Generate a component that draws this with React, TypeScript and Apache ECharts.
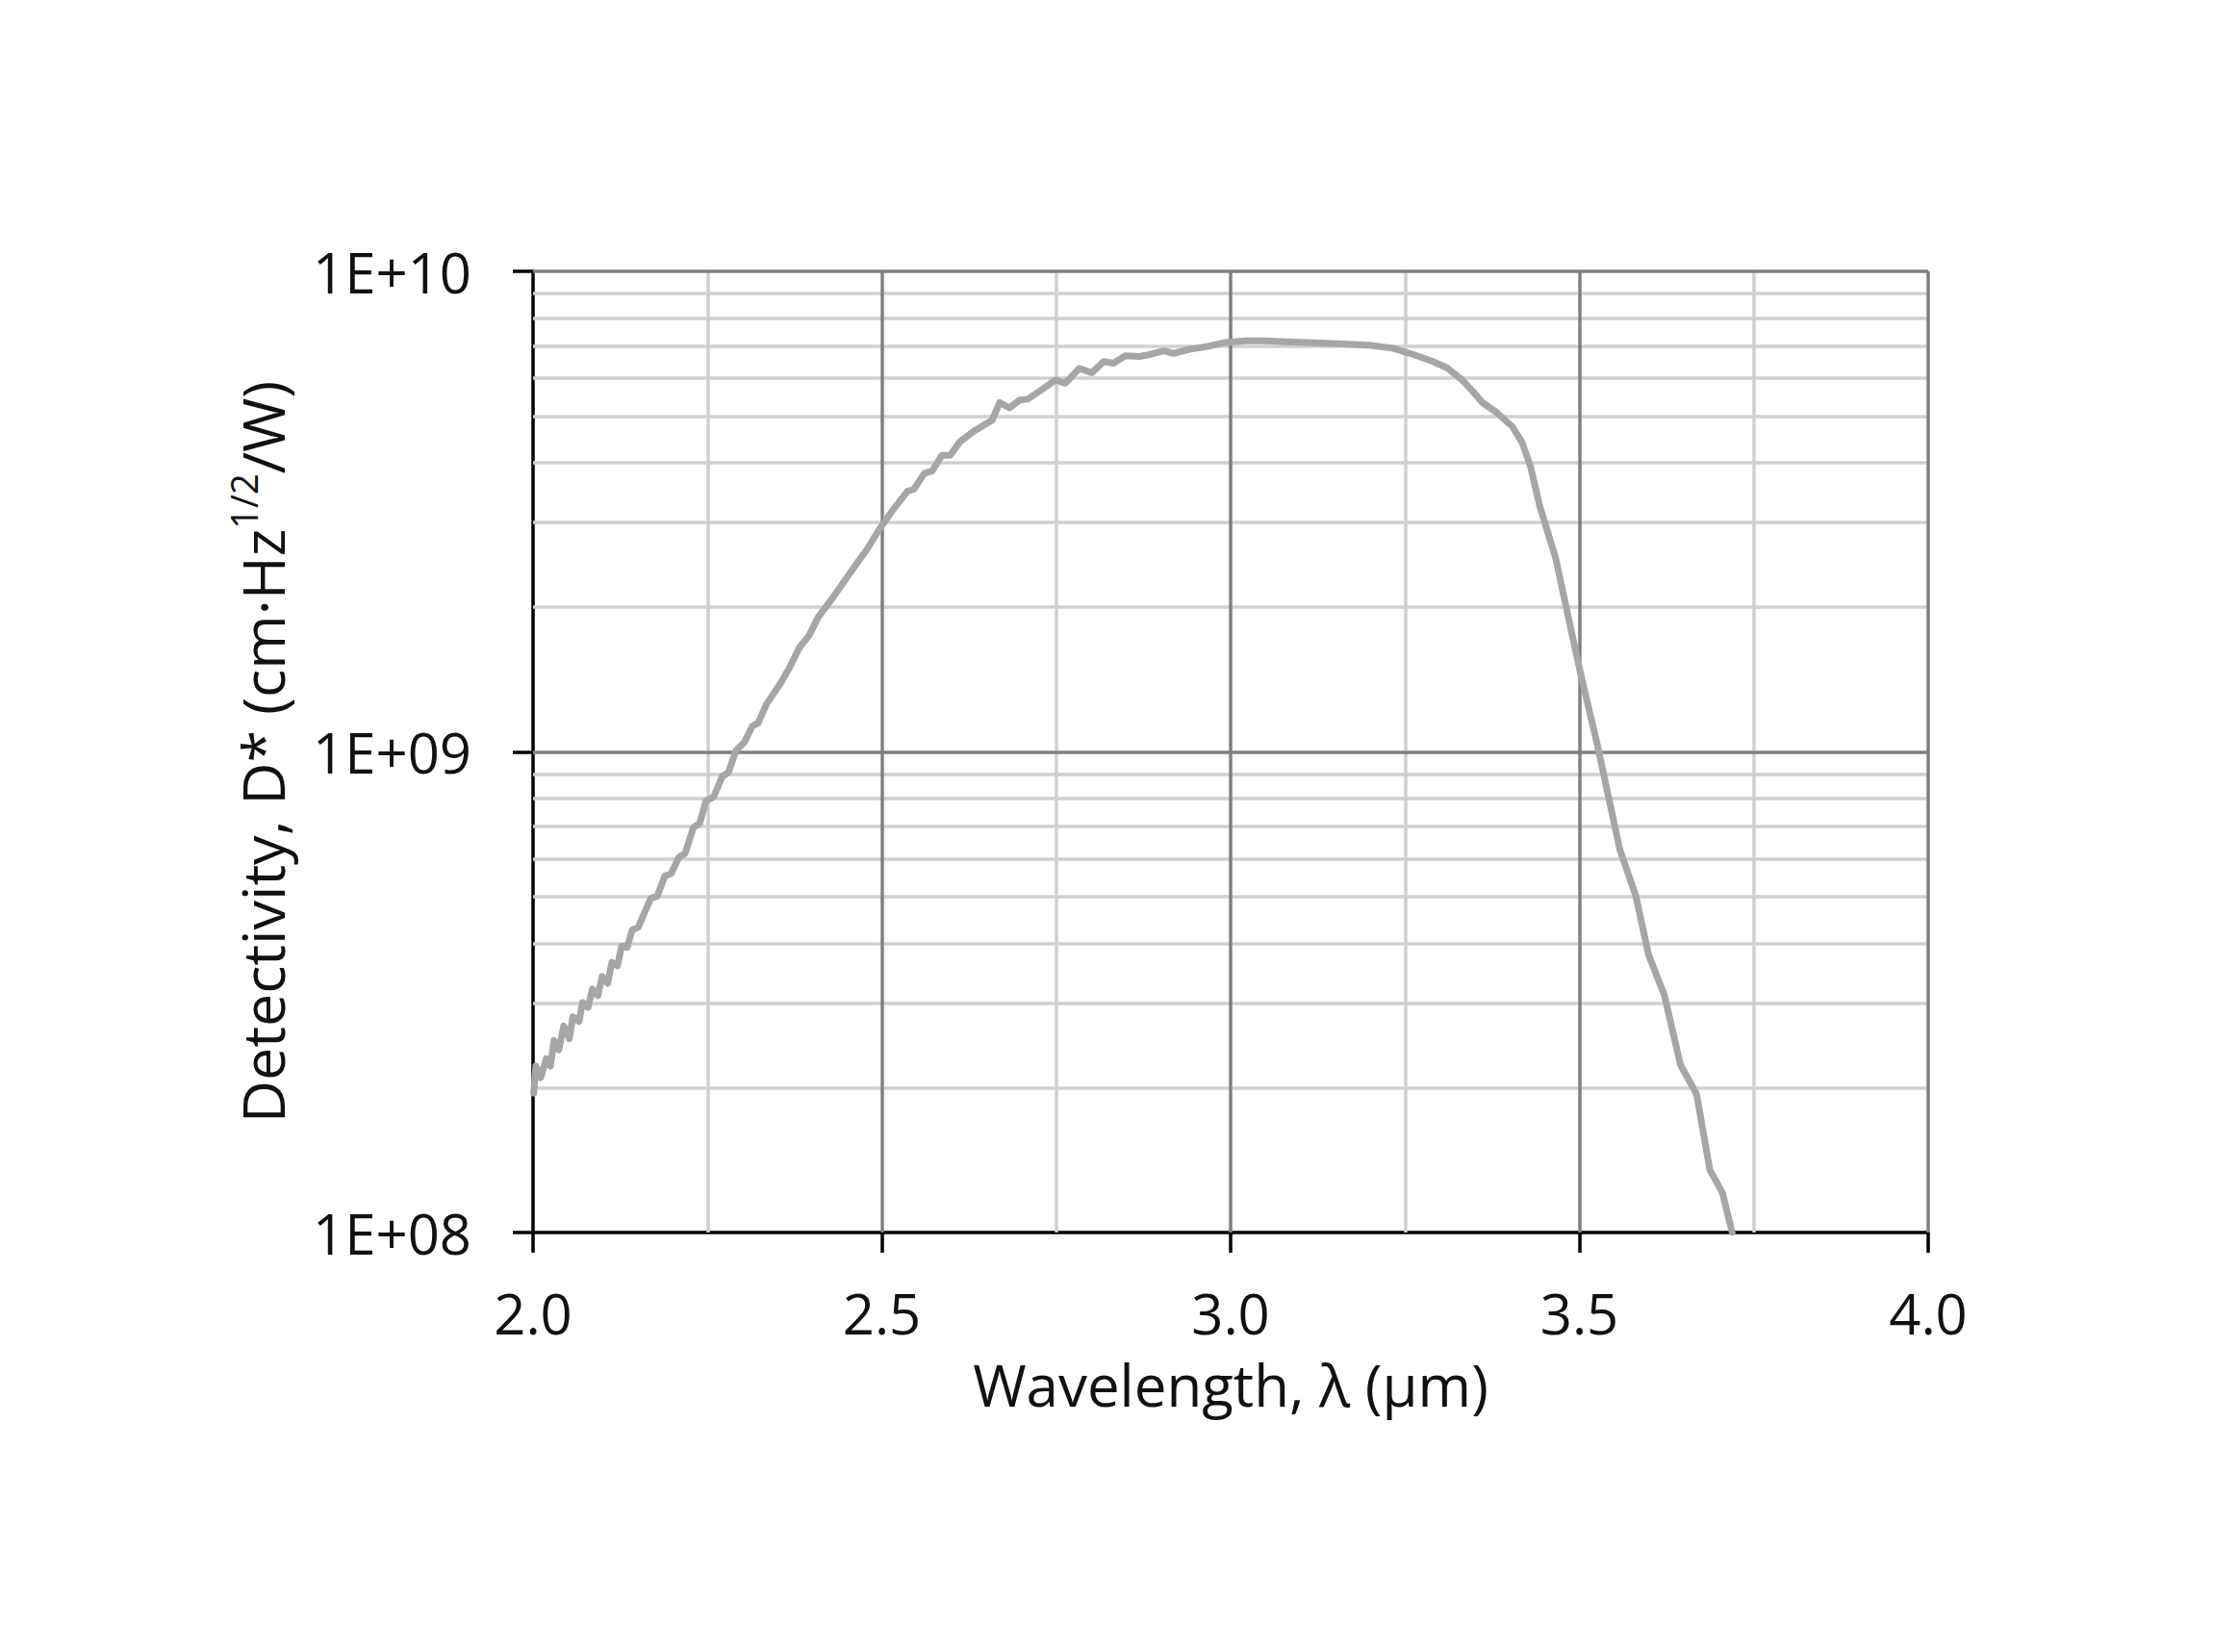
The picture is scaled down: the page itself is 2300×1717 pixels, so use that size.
import { useEffect, useRef } from 'react';
import * as echarts from 'echarts';

// wavelength (µm) and detectivity D*
const wavelength = [
  2.001, 2.004, 2.011, 2.019, 2.025, 2.030, 2.037, 2.044, 2.052, 2.057,
  2.066, 2.071, 2.079, 2.085, 2.093, 2.099, 2.107, 2.113, 2.121, 2.127,
  2.135, 2.142, 2.151, 2.160, 2.169, 2.178, 2.189, 2.198, 2.209, 2.218,
  2.230, 2.239, 2.248, 2.259, 2.271, 2.280, 2.291, 2.303, 2.314, 2.323,
  2.335, 2.346, 2.355, 2.368, 2.382, 2.396, 2.409, 2.425, 2.441, 2.459,
  2.478, 2.496, 2.514, 2.537, 2.546, 2.561, 2.572, 2.586, 2.598, 2.612,
  2.632, 2.658, 2.669, 2.683, 2.698, 2.709, 2.726, 2.749, 2.763, 2.783,
  2.801, 2.818, 2.832, 2.849, 2.869, 2.886, 2.904, 2.918, 2.941, 2.969,
  2.992, 3.021, 3.049, 3.090, 3.147, 3.198, 3.232, 3.261, 3.290, 3.310,
  3.332, 3.347, 3.361, 3.381, 3.404, 3.418, 3.430, 3.443, 3.466, 3.484,
  3.502, 3.526, 3.558, 3.581, 3.599, 3.622, 3.645, 3.668, 3.687, 3.705,
  3.719,
];
const detectivity = [
  1.95e8, 2.22e8, 2.10e8, 2.30e8, 2.22e8, 2.51e8, 2.40e8, 2.69e8, 2.53e8, 2.81e8,
  2.75e8, 3.01e8, 2.94e8, 3.21e8, 3.11e8, 3.41e8, 3.30e8, 3.65e8, 3.59e8, 3.94e8,
  3.92e8, 4.26e8, 4.32e8, 4.64e8, 4.96e8, 5.01e8, 5.52e8, 5.58e8, 6.03e8, 6.15e8,
  6.97e8, 7.11e8, 7.91e8, 8.06e8, 8.88e8, 9.06e8, 1.007e9, 1.047e9, 1.13e9, 1.15e9,
  1.26e9, 1.33e9, 1.39e9, 1.50e9, 1.65e9, 1.75e9, 1.91e9, 2.05e9, 2.21e9, 2.41e9,
  2.63e9, 2.90e9, 3.16e9, 3.49e9, 3.52e9, 3.80e9, 3.84e9, 4.14e9, 4.14e9, 4.42e9,
  4.65e9, 4.90e9, 5.33e9, 5.20e9, 5.40e9, 5.42e9, 5.63e9, 5.94e9, 5.85e9, 6.28e9,
  6.15e9, 6.49e9, 6.44e9, 6.67e9, 6.65e9, 6.72e9, 6.83e9, 6.75e9, 6.88e9, 6.99e9,
  7.11e9, 7.17e9, 7.17e9, 7.13e9, 7.08e9, 7.02e9, 6.92e9, 6.72e9, 6.49e9, 6.30e9,
  5.94e9, 5.63e9, 5.33e9, 5.09e9, 4.75e9, 4.40e9, 3.92e9, 3.25e9, 2.53e9, 1.91e9,
  1.45e9, 1.03e9, 6.26e8, 5.01e8, 3.79e8, 3.11e8, 2.23e8, 1.94e8, 1.35e8, 1.21e8,
  1.0e8,
];

// grid lines
const xMajor = [2.5, 3.0, 3.5, 4.0];
const xMinor = [2.25, 2.75, 3.25, 3.75];
const yMajor = [1e9, 1e10];
const yMinor = [
  2e8, 3e8, 4e8, 5e8, 6e8, 7e8, 8e8, 9e8,
  2e9, 3e9, 4e9, 5e9, 6e9, 7e9, 8e9, 9e9,
];

const FONT = '"Open Sans", "Noto Sans", sans-serif';
const MAJOR = '#808080';
const MINOR = '#d0d0d0';

const App = () => {
  const chartRef = useRef<HTMLDivElement>(null);

  useEffect(() => {
    if (!chartRef.current) return;
    const chart = echarts.init(chartRef.current, null, { renderer: 'svg' });

    const gridLines = [
      ...xMinor.map((v) => ({ xAxis: v, lineStyle: { color: MINOR } })),
      ...yMinor.map((v) => ({ yAxis: v, lineStyle: { color: MINOR } })),
      ...xMajor.map((v) => ({ xAxis: v, lineStyle: { color: MAJOR } })),
      ...yMajor.map((v) => ({ yAxis: v, lineStyle: { color: MAJOR } })),
    ];

    const option: echarts.EChartsOption = {
      animation: false,
      backgroundColor: '#ffffff',
      grid: { left: 554, right: 296, top: 282, bottom: 436 },
      xAxis: {
        type: 'value',
        min: 2,
        max: 4,
        interval: 0.5,
        name: 'Wavelength, λ (µm)',
        nameLocation: 'middle',
        nameGap: 128,
        nameTextStyle: { fontFamily: FONT, fontSize: 60, color: '#111' },
        axisLine: { show: true, onZero: false, lineStyle: { color: '#000', width: 3.5 } },
        axisTick: { show: true, inside: false, length: 21, lineStyle: { color: '#000', width: 3.5 } },
        axisLabel: {
          fontFamily: FONT,
          fontSize: 58,
          color: '#111',
          margin: 54,
          formatter: (v: number) => v.toFixed(1),
        },
        splitLine: { show: false },
      },
      yAxis: {
        type: 'log',
        logBase: 10,
        min: 1e8,
        max: 1e10,
        interval: 1,
        name: '{a|Detectivity, D* (cm·Hz}{s|1/2}{a|/W)}',
        nameLocation: 'middle',
        nameGap: 244,
        nameTextStyle: {
          fontFamily: FONT,
          color: '#111',
          rich: {
            a: { fontFamily: FONT, fontSize: 61, color: '#111', lineHeight: 76 },
            s: { fontFamily: FONT, fontSize: 38, color: '#111', verticalAlign: 'top', lineHeight: 76 },
          },
        },
        axisLine: { show: true, lineStyle: { color: '#000', width: 3.5 } },
        axisTick: { show: true, inside: false, length: 21, lineStyle: { color: '#000', width: 3.5 } },
        axisLabel: {
          fontFamily: FONT,
          fontSize: 58,
          color: '#111',
          margin: 64,
          formatter: (v: number) =>
            '1E+' + String(Math.round(Math.log10(v))).padStart(2, '0'),
        },
        splitLine: { show: false },
        minorTick: { show: false },
        minorSplitLine: { show: false },
      },
      series: [
        {
          name: 'grid',
          type: 'line',
          data: [],
          silent: true,
          z: 1,
          markLine: {
            silent: true,
            symbol: ['none', 'none'],
            label: { show: false },
            z: 1,
            lineStyle: { type: 'solid', width: 3.5 },
            data: gridLines as any,
          },
        },
        {
          name: 'D*',
          type: 'line',
          z: 3,
          showSymbol: false,
          symbol: 'none',
          smooth: false,
          lineStyle: { color: '#a6a6a6', width: 7, cap: 'round', join: 'round' },
          data: wavelength.map((w, i) => [w, detectivity[i]]),
        },
      ],
    };

    chart.setOption(option);
    return () => {
      chart.dispose();
    };
  }, []);

  return (
    <div
      ref={chartRef}
      style={{ position: 'fixed', left: 0, top: 0, width: 2300, height: 1717 }}
    />
  );
};

export default App;
